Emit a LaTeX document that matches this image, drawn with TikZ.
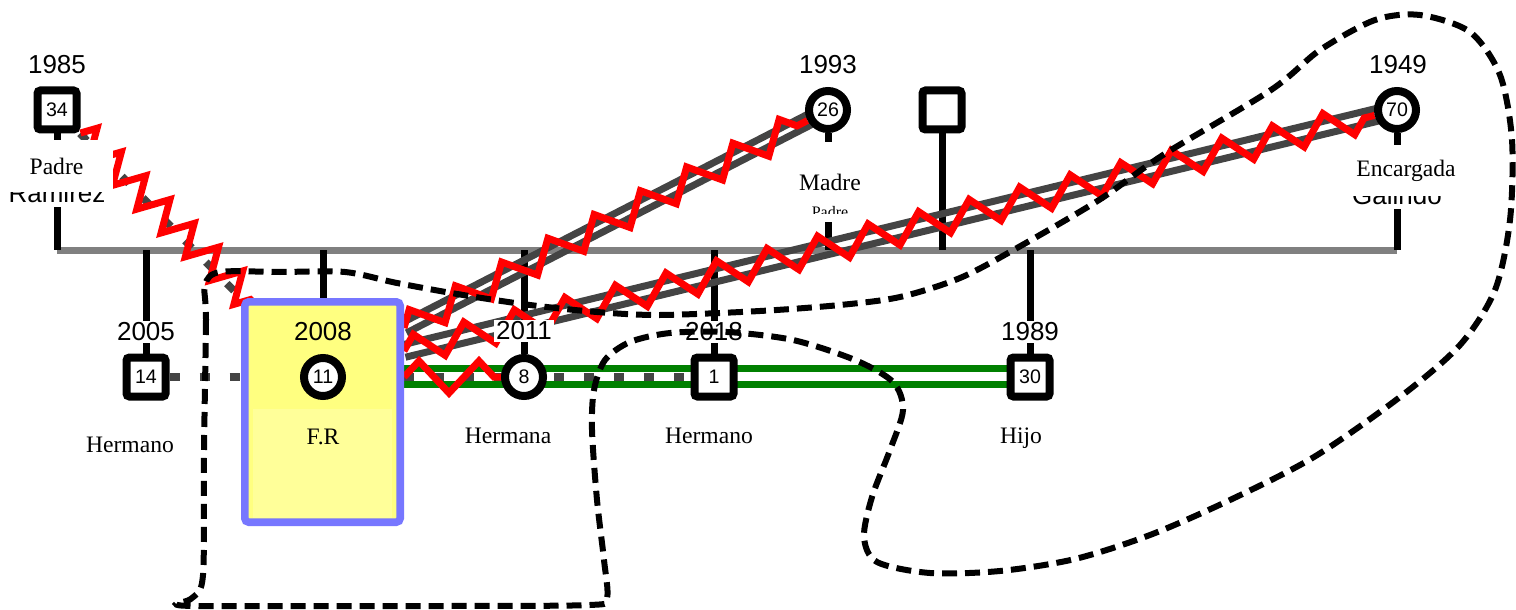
\documentclass[tikz,border=0pt]{standalone}
\usepackage{fontspec}
\setmainfont{Liberation Serif}
\setsansfont{Liberation Sans}
\usetikzlibrary{calc,positioning,backgrounds,decorations.pathmorphing}

\definecolor{relgrey}{HTML}{444444}
\definecolor{bargrey}{HTML}{808080}
\definecolor{boxblue}{HTML}{7777FF}
\definecolor{boxyellow}{HTML}{FFFF80}
\definecolor{boxlight}{HTML}{FFFF99}
\definecolor{tiegreen}{HTML}{008000}

\begin{document}
\begin{tikzpicture}[x=0.5pt,y=-0.5pt,
  male/.style={draw,line width=4pt,rounded corners=1.5pt,fill=white,minimum size=19.5pt,inner sep=0pt,font=\sffamily\fontsize{9.8}{10}\selectfont},
  female/.style={male,circle,minimum size=19pt},
  year/.style={fill=white,inner sep=1pt,font=\sffamily\fontsize{13}{13}\selectfont},
  role/.style={fill=white,inner sep=0pt,font=\fontsize{11.8}{12}\selectfont},
  surname/.style={fill=white,inner sep=2pt,font=\sffamily\fontsize{13}{13}\selectfont},
  stem/.style={line width=3.5pt},
  bond/.style={relgrey,line width=3.5pt},
  distant/.style={relgrey,line width=3.8pt,dash pattern=on 5pt off 10pt},
  hostile/.style={red,line width=3.5pt,decorate,decoration={zigzag,segment length=26pt,amplitude=7pt}},
  closetie/.style={tiegreen,line width=3.5pt},
  household/.style={line width=3pt,dash pattern=on 7.5pt off 4pt}]
  \useasboundingbox (0,0) rectangle (1516,610);

  % highlighted person
  \node[draw=boxblue,fill=boxyellow,line width=3.8pt,rounded corners=2pt,minimum width=77.7pt,minimum height=110.2pt] (frbox) at (322.5,412) {};
  \node[fill=boxlight,minimum width=69.5pt,minimum height=54.5pt,inner sep=0pt,anchor=north] (frlight) at (322.5,409) {};

  % people
  \node[male] (padre) at (57,110) {34};
  \node[female] (madre) at (828,110) {26};
  \node[male] (desc) at (942,110) {};
  \node[female] (encargada) at (1397,110) {70};
  \node[male] (nico) at (146,377) {14};
  \node[female] (fr) at (323,377) {11};
  \node[female] (hna) at (524,377) {8};
  \node[male] (hno) at (714,377) {1};
  \node[male] (hijo) at (1030,377) {30};

  \coordinate (barL) at (57,250);
  \coordinate (barR) at (1397,250);
  \coordinate (frM) at ($(frbox.east)+(0,-84)$);
  \coordinate (frE) at ($(frbox.east)+(0,-61)$);
  \coordinate (frH) at ($(frbox.east)+(0,-35)$);

  \begin{scope}[on background layer]
    \draw[bargrey,line width=3.5pt] (barL) -- (barR);
    \foreach \p in {padre,madre,desc,encargada,nico,fr,hna,hno,hijo}
      \draw[stem] (\p) -- (\p |- barL);

    \draw[bond] ($(frM)!2.75pt!90:(madre)$) -- ($(madre)!2.75pt!-90:(frM)$);
    \draw[bond] ($(frM)!2.75pt!-90:(madre)$) -- ($(madre)!2.75pt!90:(frM)$);
    \draw[bond] ($(frE)!3.2pt!90:(encargada)$) -- ($(encargada)!3.2pt!-90:(frE)$);
    \draw[bond] ($(frE)!3.2pt!-90:(encargada)$) -- ($(encargada)!3.2pt!90:(frE)$);
    \draw[distant] (padre) -- (frbox.north west);
    \draw[distant] (nico) -- (frbox.west |- nico);
    \draw[distant] (frH) -- (hno);
    \draw[closetie] ($(frH)+(0,-8.5)$) -- ($(hijo)+(0,-8.5)$);
    \draw[closetie] ($(frH)+(0,7)$) -- ($(hijo)+(0,7)$);

    \draw[hostile,decoration={segment length=17pt,amplitude=7.5pt}] (padre) -- ($(frbox.north west)+(12,4)$);
    \draw[hostile] (frM) -- (madre);
    \draw[hostile] (frE) -- (encargada);
    \draw[hostile,decoration={segment length=30pt,amplitude=8pt}] (frH) -- (hna);
  \end{scope}

  % years
  \node[year] (y1985) at (57,65) {1985};
  \node[year] (y1993) at (828,65) {1993};
  \node[year] (y1949) at (1398,65) {1949};
  \node[year] (y2005) at (146,332) {2005};
  \node[year,fill=none] (y2008) at (323,332) {2008};
  \node[year] (y2011) at (524,331) {2011};
  \node[year] (y2018) at (714,332) {2018};
  \node[year] (y1989) at (1030,332) {1989};

  % names and roles
  \node[surname,anchor=base] (npadre) at (57,203) {Ramirez};
  \node[role,minimum width=56.5pt,minimum height=26pt] (rpadre) at (56.5,166) {Padre};
  \node[role,minimum width=35pt,minimum height=40pt] (rmadre) at (830,182) {Madre};
  \begin{scope}
    \clip (790,200) rectangle (870,213);
    \node[font=\fontsize{8}{8}\selectfont,anchor=base,inner sep=0pt] (tmadre) at (830,217.5) {Padre};
  \end{scope}
  \node[surname,anchor=base] (nencargada) at (1397,205) {Galindo};
  \node[role,minimum width=55pt,minimum height=25.5pt] (rencargada) at (1406,170.5) {Encargada};
  \node[role] (rnico) at (130,445) {Hermano};
  \node[role,fill=none] (rfr) at (323,437) {F.R};
  \node[role] (rhna) at (508,436) {Hermana};
  \node[role] (rhno) at (709,436) {Hermano};
  \node[role] (rhijo) at (1021,438) {Hijo};

  % household
  \draw[household] plot[smooth cycle,tension=0.5] coordinates {
    (205,285) (206,320) (204,450) (203,575) (192,598) (176,604) (195,606) (300,606)
    (450,606) (590,605) (607,598) (604,560) (597,500) (592,430) (594,390) (605,360)
    (630,342) (670,333) (727,332) (793,340) (855,360) (893,382) (903,410) (890,450)
    (872,497) (864,537) (877,562) (930,573) (1000,571) (1075,559) (1150,535)
    (1230,500) (1314,457) (1400,397) (1460,345) (1495,290) (1510,220) (1512,140)
    (1500,75) (1470,32) (1420,15) (1375,20) (1320,50) (1271,90) (1163,155)
    (1099,200) (1017,248) (960,278) (900,297) (840,305) (760,311) (660,315)
    (597,312) (530,305) (463,295) (397,283) (345,272) (280,272) (220,272)};
\end{tikzpicture}
\end{document}
